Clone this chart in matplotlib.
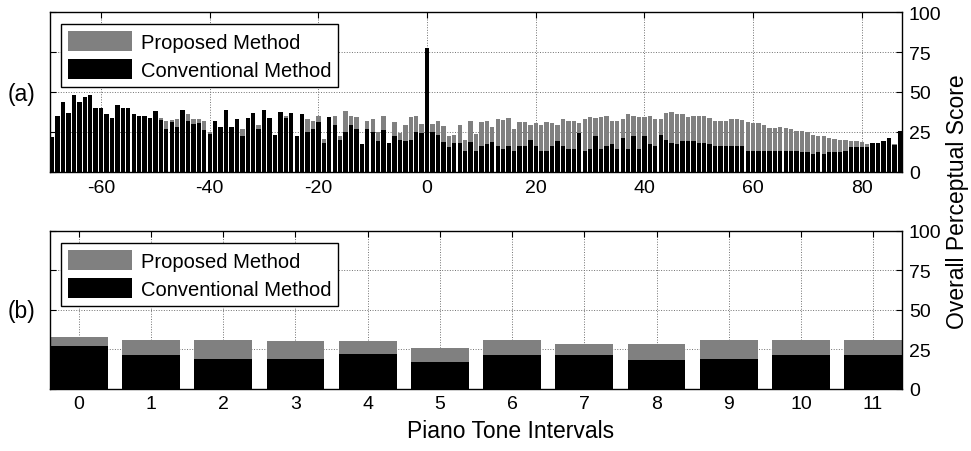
import matplotlib
matplotlib.use("Agg")
import matplotlib.pyplot as plt
import numpy as np

plt.rcParams['font.family'] = ['Liberation Sans', 'DejaVu Sans']
plt.rcParams['axes.unicode_minus'] = False

# piano tone intervals, -69 .. 87 semitones
intervals = list(range(-69, 88))

conventional = [
    22, 35, 44, 37, 48, 44, 47, 48, 40, 40, 36, 34, 42, 40, 40, 36, 35, 35, 33.5, 38, 32.7, 27, 31.5,   # -69 .. -47
    28.3, 38.7, 32, 30, 30.4, 26.3, 23.8, 32, 28.3, 38.7, 28.3, 33.1, 22.7, 33.8, 36.6, 27, 38.7, 33.8,
    23.1, 37.3, 33.8, 36.6,                                                                              # -46 .. -25
    22.7, 36.3, 25.2, 26.9, 31.4, 18.1, 34.2, 29.4, 20.2, 25.2, 29.4, 26.9, 17.5, 26.9, 25.2, 19.6,
    26.3, 17.9, 22.7, 20.2, 19.6, 20.2, 25.2, 24.4,                                                      # -24 .. -1
    77.5,                                                                                                # 0
    25.2, 23.1, 18.5, 15.8, 18.1, 18.1, 13.3, 18.5, 13, 16, 17.5, 18.5, 16.5, 14.5, 16, 13, 16, 16.5,
    20, 16, 13, 13, 16, 19.6,                                                                            # 1 .. 24
    16, 14.4, 14.4, 24.4, 13.3, 14.4, 22.3, 14.4, 16.5, 17.5, 14.4, 21.2, 14.4, 22.3, 14.4, 22.3, 17.5,
    16, 23, 20, 18, 17.5, 19.6, 19.6, 19.6,                                                              # 25 .. 49
    18, 18, 17.5, 16, 16.5, 16, 16, 16, 16, 13.3, 13.3, 13.3, 13.3, 13.3, 13.3, 13.3, 13.3, 13.3, 13.3,
    12.7, 12.7, 11.2, 12.7, 11.2, 12.7,                                                                  # 50 .. 74
    12.7, 12.7, 13.3, 15.8, 15.8, 15.8, 15.8, 18.1, 18.1, 19.6, 21.5, 16.7, 25.8,                        # 75 .. 87
]

proposed = [
    20, 30, 38, 34, 42, 40, 41, 43, 37, 36, 33, 31, 38, 36, 37, 33, 33, 32, 32, 33, 33.8, 32, 32.5,      # -69 .. -47
    33.1, 33, 36, 33, 33, 32, 24.8, 30, 27, 33, 27, 30, 27, 30, 33, 29.4, 33, 34, 22, 33, 35.2, 33,      # -46 .. -25
    20, 33, 33.1, 32, 34.8, 20.6, 31, 35, 22.7, 38.3, 35, 34.2, 16, 32.1, 33.1, 25.2, 35.2, 16, 31,
    24.4, 29.4, 34.2, 35.2, 30,                                                                          # -24 .. -1
    30,                                                                                                  # 0
    30, 32.1, 28.5, 22.7, 23.3, 29.4, 20, 32, 24, 31.5, 32, 28, 33, 32.7, 34, 27, 31.5, 31.5, 29.4,
    30.4, 29.4, 31.5, 30.4, 29.6,                                                                        # 1 .. 24
    33, 32, 31.7, 30.4, 33, 34.2, 33.8, 34.2, 35.2, 32, 32, 33, 36.3, 35.2, 34.2, 34.2, 35.2, 33, 33,
    36.7, 37.3, 36.3, 36.3, 34.2, 35.2,                                                                  # 25 .. 49
    35, 35, 34, 32, 32, 32, 33, 33, 32.5, 31.5, 30.4, 30.4, 29.4, 27.3, 27.3, 28.3, 27.3, 27, 25.8,
    25.8, 24.8, 23.3, 22.3, 22.3, 21,                                                                    # 50 .. 74
    20.6, 20.2, 20.2, 19.6, 19.6, 18.5, 17.5, 16, 16, 17, 18, 17.7, 20,                                  # 75 .. 87
]

# intervals folded into one octave
classes = list(range(12))
proposed_class = [32.4, 30.6, 30.6, 30.0, 30.0, 25.6, 30.6, 28.1, 28.1, 30.6, 30.6, 30.6]
conventional_class = [27.0, 21.3, 18.6, 18.6, 22.0, 16.9, 21.3, 21.3, 18.0, 18.6, 21.3, 21.3]

GRAY = '#808080'
FS = 14

fig = plt.figure(figsize=(9.71, 4.52), dpi=100)
W, H = 971.0, 452.0
axA = fig.add_axes([50 / W, 1 - 173 / H, 852 / W, 160 / H])
axB = fig.add_axes([50 / W, 1 - 389.5 / H, 852 / W, 157.5 / H])


def style(ax):
    ax.set_ylim(0, 100)
    ax.set_yticks([0, 25, 50, 75, 100])
    ax.grid(True, linestyle=':', color='#707070', linewidth=0.7)
    ax.set_axisbelow(True)
    ax.tick_params(direction='in', top=True, right=True, left=True, bottom=True,
                   labelleft=False, labelright=True, labelsize=FS, length=4, width=0.8,
                   pad=5)
    for s in ax.spines.values():
        s.set_linewidth(1.0)
        s.set_color('black')


def legend(ax):
    ax.legend(loc='upper left', bbox_to_anchor=(11 / 852, 1 - 12 / 160), fontsize=14.5,
              frameon=True, fancybox=False, framealpha=1, edgecolor='black',
              handlelength=3.2, handleheight=1.15, labelspacing=0.35,
              borderpad=0.35, handletextpad=0.4, borderaxespad=0)


# (a) every interval
axA.bar(intervals, proposed, width=0.8, color=GRAY, linewidth=0, label='Proposed Method')
axA.bar(intervals, conventional, width=0.8, color='black', linewidth=0, label='Conventional Method')
axA.set_xlim(intervals[0] - 0.4, intervals[-1] + 0.4)
axA.set_xticks(range(-60, 81, 20))
style(axA)
legend(axA)

# (b) intervals within one octave
axB.bar(classes, proposed_class, width=0.8, color=GRAY, linewidth=0, label='Proposed Method')
axB.bar(classes, conventional_class, width=0.8, color='black', linewidth=0, label='Conventional Method')
axB.set_xlim(-0.4, 11.4)
axB.set_xticks(classes)
style(axB)
legend(axB)

fig.text(21 / W, 1 - 95 / H, '(a)', fontsize=16.5, ha='center', va='center')
fig.text(21 / W, 1 - 312 / H, '(b)', fontsize=16.5, ha='center', va='center')
fig.text(511 / W, 1 - 432 / H, 'Piano Tone Intervals', fontsize=16.5, ha='center', va='center')
fig.text(957 / W, 1 - 202 / H, 'Overall Perceptual Score', fontsize=16.5, rotation=90,
         ha='center', va='center')

fig.savefig('out.png', dpi=100)
